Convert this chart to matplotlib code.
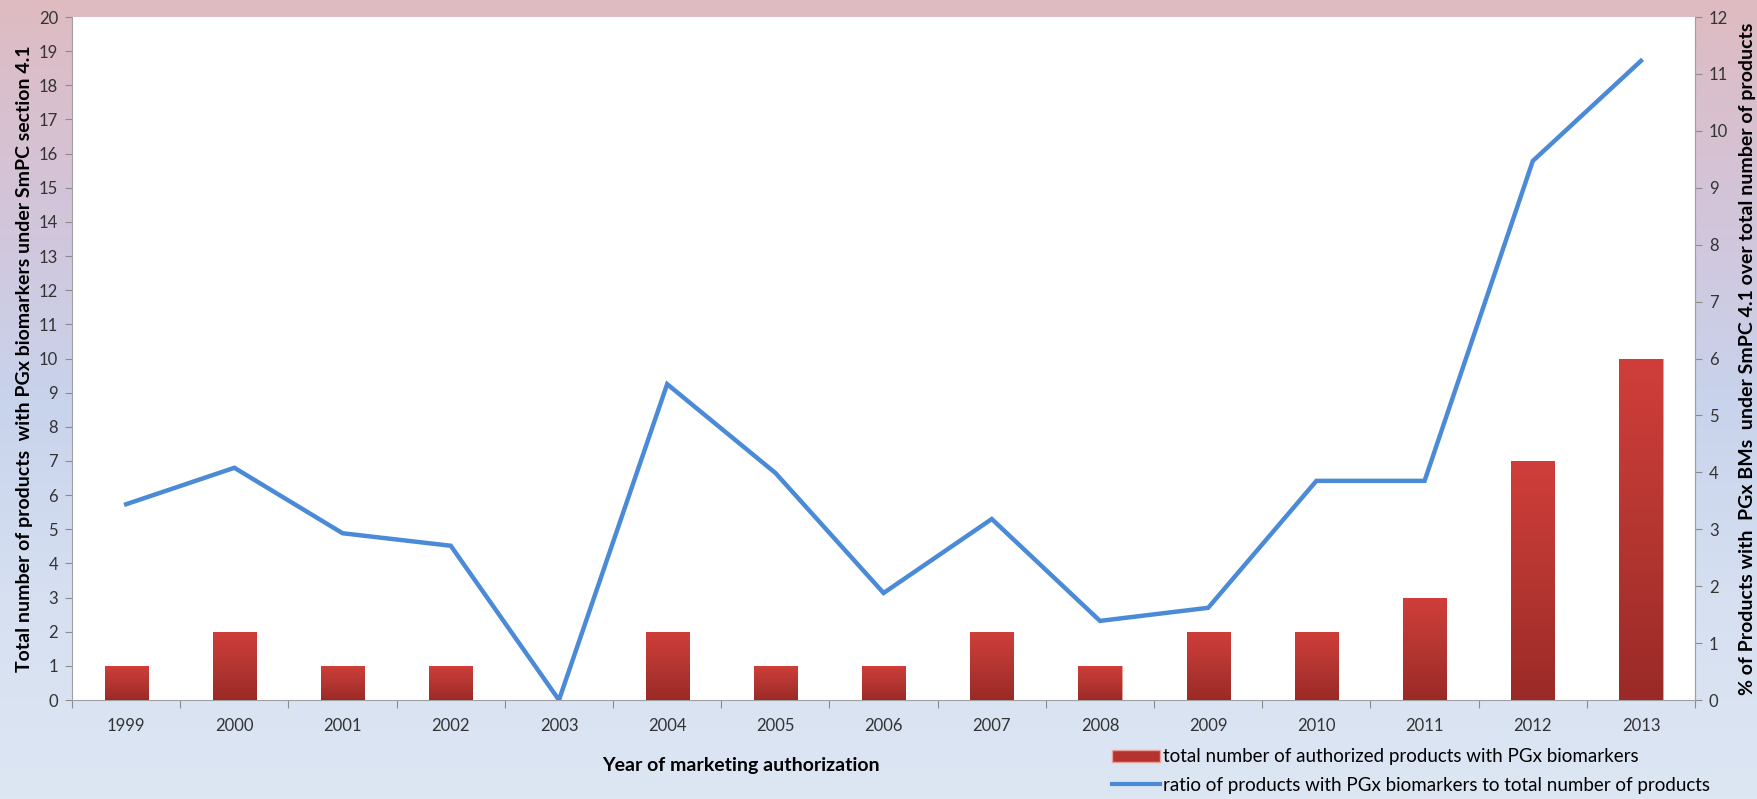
import numpy as np
import matplotlib
matplotlib.use('Agg')
import matplotlib.pyplot as plt
from matplotlib.colors import LinearSegmentedColormap
from matplotlib.patches import Patch
from matplotlib.lines import Line2D

plt.rcParams['font.family'] = ['Lato', 'DejaVu Sans']

years = ['1999', '2000', '2001', '2002', '2003', '2004', '2005', '2006',
         '2007', '2008', '2009', '2010', '2011', '2012', '2013']
n_products = [1, 2, 1, 1, 0, 2, 1, 1, 2, 1, 2, 2, 3, 7, 10]
pct_ratio = [3.44, 4.08, 2.93, 2.71, 0.0, 5.55, 3.99, 1.88, 3.18, 1.39,
             1.62, 3.85, 3.85, 9.47, 11.23]

bar_label = 'total number of authorized products with PGx biomarkers'
line_label = 'ratio of products with PGx biomarkers to total number of products'

fig = plt.figure(figsize=(17.58, 7.99), dpi=100)

# background gradient
bg = fig.add_axes([0, 0, 1, 1], zorder=-10)
bg_cmap = LinearSegmentedColormap.from_list(
    'bg', ['#dfbbc1', '#d3c4d9', '#c8d3ec', '#d6e0f1', '#dde6f3'])
bg.imshow(np.linspace(0, 1, 256).reshape(-1, 1), aspect='auto', cmap=bg_cmap,
          extent=[0, 1, 0, 1])
bg.axis('off')

ax = fig.add_axes([0.041, 0.1239, 0.9232, 0.8548])
ax.set_facecolor('white')
x = np.arange(len(years))
bars = ax.bar(x, n_products, width=0.4, color='#c0392f', zorder=2)

bar_cmap = LinearSegmentedColormap.from_list('bar', ['#9a2a27', '#b53631', '#d03e3a'])
grad = np.linspace(0, 1, 128).reshape(-1, 1)
for b in bars:
    if b.get_height() <= 0:
        continue
    x0, y0 = b.get_x(), b.get_y()
    im = ax.imshow(grad, aspect='auto', cmap=bar_cmap, origin='lower',
                   extent=[x0, x0 + b.get_width(), y0, y0 + b.get_height()],
                   zorder=3)
    im.set_clip_path(b)
    b.set_edgecolor('#e8a09a')
    b.set_linewidth(0.6)

ax.set_xlim(-0.5, len(years) - 0.5)
ax.set_ylim(0, 20)
ax.set_yticks(range(0, 21))
ax.set_xticks(np.arange(-0.5, len(years)), labels=[])
ax.set_xticks(x, labels=years, minor=True)
ax.tick_params(axis='x', which='major', length=6, color='#8c8c8c', direction='out')
ax.tick_params(axis='x', which='minor', length=0, pad=13, labelsize=12,
               labelcolor='#333333')
ax.tick_params(axis='y', length=5, color='#8c8c8c', labelsize=12,
               labelcolor='#333333', pad=5)
ax.spines['top'].set_visible(False)
for s in ['left', 'bottom', 'right']:
    ax.spines[s].set_color('#a0a0a0')

ax.set_xlabel('Year of marketing authorization', fontsize=14, fontweight='bold')
ax.xaxis.set_label_coords(0.412, -0.083)
ax.set_ylabel('Total number of products  with PGx biomarkers under SmPC section 4.1',
              fontsize=14, fontweight='bold', labelpad=4)

ax2 = ax.twinx()
ax2.plot(x, pct_ratio, color='#4a8ad6', lw=3.2, zorder=4, solid_joinstyle='miter')
ax2.set_ylim(0, 12)
ax2.set_yticks(range(0, 13))
ax2.tick_params(axis='y', length=5, color='#8c8c8c', labelsize=12,
                labelcolor='#333333', pad=5)
for s in ['top', 'left', 'bottom']:
    ax2.spines[s].set_visible(False)
ax2.spines['right'].set_color('#a0a0a0')
ax2.set_ylabel('% of Products with  PGx BMs  under SmPC 4.1 over total number of products',
               fontsize=14, fontweight='bold', labelpad=8)

handles = [Patch(facecolor='#b5332f', edgecolor='#e8a09a'),
           Line2D([0], [0], color='#4a8ad6', lw=3)]
fig.legend(handles, [bar_label, line_label], loc='upper left',
           bbox_to_anchor=(0.627, 0.075), frameon=False, fontsize=13.5,
           handlelength=2.6, handleheight=0.6, handletextpad=0.15,
           labelspacing=0.6, borderpad=0)

fig.savefig('out.png', dpi=100)
